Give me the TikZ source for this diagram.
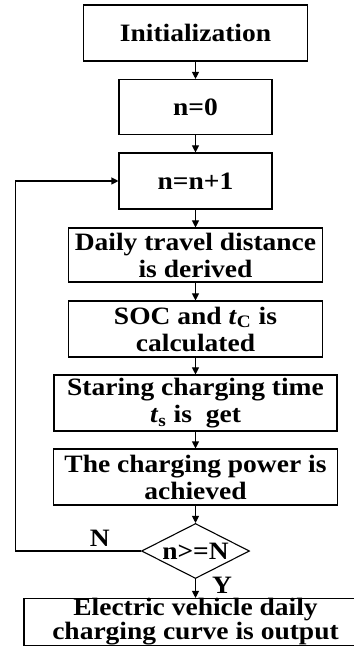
\documentclass[tikz,border=0pt]{standalone}
\usepackage{fontspec}
\setmainfont{Liberation Serif}[FakeStretch=1.1]
\usepackage{tikz}
\usetikzlibrary{arrows.meta, positioning, shapes.geometric}
\tikzset{>/.tip={Triangle[length=3.5pt,width=3.5pt]}}

\begin{document}
\begin{tikzpicture}[node distance=37pt, line width=0.55pt,
    txt/.style={font=\fontsize{12.5pt}{13.5pt}\selectfont\bfseries},
    box/.style={draw, align=center, inner sep=0pt, txt},
    lbl/.style={inner sep=0.5pt, txt},
    test/.style={box, diamond, aspect=2, minimum width=54pt, minimum height=27.5pt}]
  \useasboundingbox (-97.75pt,16.5pt) rectangle (78.75pt,-311.5pt);
  \node(init) [box, minimum width=112pt, minimum height=28pt] {Initialization};
  \node(n0) [below of=init, box, minimum width=76.5pt, minimum height=27.5pt] {n=0};
  \node(inc) [below of=n0, box, minimum width=76.5pt, minimum height=28pt] {n=n+1};
  \node(dist) [below of=inc, box, minimum width=127pt, minimum height=27pt]
    {Daily travel distance\\is derived};
  \node(soc) [below of=dist, box, minimum width=127pt, minimum height=28pt]
    {SOC and \textit{t}\textsubscript{C} is\\calculated};
  \node(ts) [below of=soc, box, minimum width=141.5pt, minimum height=28pt]
    {Staring charging time\\\textit{t}\textsubscript{s} is\ \ get};
  \node(pow) [below of=ts, box, minimum width=142pt, minimum height=28pt]
    {The charging power is\\achieved};
  \node(cmp) [below of=pow, test] {n>=N};
  \node(out) [below of=cmp, node distance=35.5pt, box, minimum width=171.5pt, minimum height=23.5pt,
    font=\fontsize{12.5pt}{12pt}\selectfont\bfseries]
    {Electric vehicle daily\\charging curve is output};
  \draw[->]
   (init) edge (n0)
   (n0) edge (inc)
   (inc) edge (dist)
   (dist) edge (soc)
   (soc) edge (ts)
   (ts) edge (pow)
   (pow) edge (cmp)
   (cmp) edge node[pos=0, anchor=north west, xshift=7.5pt, yshift=1.5pt, lbl]{Y} (out);
  % loop back when n<N
  \draw[->] (cmp.west) -- node[pos=.33, above=1.5pt, lbl]{N}
    ++(-62.5pt,0) |- (inc.west);
\end{tikzpicture}
\end{document}
